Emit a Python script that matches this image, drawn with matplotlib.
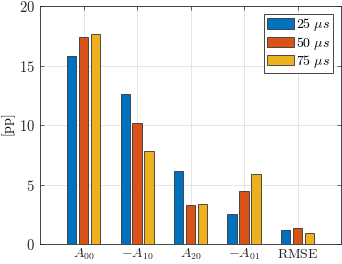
import numpy as np
import matplotlib
matplotlib.use("Agg")
import matplotlib.pyplot as plt

plt.rcParams["mathtext.fontset"] = "cm"
plt.rcParams["font.family"] = "serif"
plt.rcParams["font.serif"] = ["DejaVu Serif"]

categories = [r"$A_{00}$", r"$-A_{10}$", r"$A_{20}$", r"$-A_{01}$", r"$\mathrm{RMSE}$"]
series_labels = [r"$25\ \mu s$", r"$50\ \mu s$", r"$75\ \mu s$"]
v25 = [15.8, 12.6, 6.13, 2.57, 1.17]
v50 = [17.42, 10.2, 3.33, 4.48, 1.37]
v75 = [17.65, 7.8, 3.39, 5.93, 0.92]
colors = ["#0072BD", "#D95319", "#EDB120"]

fig = plt.figure(figsize=(3.42, 2.64), dpi=100)
ax = fig.add_axes([0.118, 0.0746, 0.879, 0.9027])

x = np.arange(1, len(categories) + 1)
step = 0.224
width = 0.175
for i, (vals, c, lab) in enumerate(zip([v25, v50, v75], colors, series_labels)):
    ax.bar(x + (i - 1) * step, vals, width, color=c, edgecolor="#333333",
           linewidth=0.6, label=lab, zorder=3)

ax.set_xlim(0.19, 5.81)
ax.set_ylim(0, 20)
ax.set_xticks(x)
ax.set_xticklabels(categories, fontsize=10)
ax.set_yticks([0, 5, 10, 15, 20])
ax.set_yticklabels([rf"$\mathrm{{{t}}}$" for t in [0, 5, 10, 15, 20]], fontsize=10.5)
ax.set_ylabel(r"$[\mathrm{pp}]$", fontsize=10)
ax.yaxis.set_label_coords(-0.073, 0.5)
ax.grid(True, color="#e0e0e0", linewidth=0.6, zorder=0)
ax.set_axisbelow(True)
ax.tick_params(direction="in", top=True, right=True, length=3, width=0.5,
               colors="#262626", pad=4)
ax.tick_params(axis="x", pad=2)
for s in ax.spines.values():
    s.set_linewidth(0.6)
    s.set_color("#262626")

leg = ax.legend(loc="upper right", fontsize=10, handlelength=2.0, handleheight=0.75,
                handletextpad=0.15, labelspacing=0.1, borderpad=0.2,
                borderaxespad=0.55, fancybox=False, framealpha=1)
leg.get_frame().set_edgecolor("#262626")
leg.get_frame().set_linewidth(0.6)

fig.savefig("out.png", dpi=100)
